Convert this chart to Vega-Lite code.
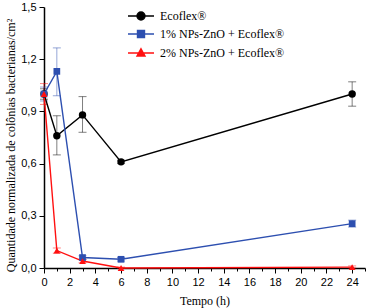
{
  "$schema": "https://vega.github.io/schema/vega-lite/v6.json",
  "width": 321,
  "height": 261,
  "autosize": "none",
  "padding": {"left": 44, "top": 7, "right": 6, "bottom": 40},
  "background": "white",
  "config": {
    "view": {"stroke": null},
    "locale": {"number": {"decimal": ",", "thousands": ".", "grouping": [3], "currency": ["", ""]}},
    "axis": {
      "domainColor": "black", "domainWidth": 1.5, "tickColor": "black", "tickWidth": 1,
      "labelFont": "Liberation Sans", "labelFontSize": 11, "labelColor": "black",
      "titleFont": "Liberation Serif", "titleFontSize": 12, "titleFontWeight": "normal", "titleColor": "black",
      "grid": false, "labelOverlap": false, "labelFlush": false
    }
  },
  "data": {"values": [
    {"series": "Ecoflex®", "t": 0, "v": 1.0, "lo": 0.97, "hi": 1.03},
    {"series": "Ecoflex®", "t": 1, "v": 0.76, "lo": 0.65, "hi": 0.875},
    {"series": "Ecoflex®", "t": 3, "v": 0.88, "lo": 0.78, "hi": 0.985},
    {"series": "Ecoflex®", "t": 6, "v": 0.61, "lo": 0.6, "hi": 0.62},
    {"series": "Ecoflex®", "t": 24, "v": 1.0, "lo": 0.93, "hi": 1.07},
    {"series": "1% NPs-ZnO + Ecoflex®", "t": 0, "v": 1.0, "lo": 0.96, "hi": 1.04},
    {"series": "1% NPs-ZnO + Ecoflex®", "t": 1, "v": 1.13, "lo": 0.99, "hi": 1.265},
    {"series": "1% NPs-ZnO + Ecoflex®", "t": 3, "v": 0.06, "lo": 0.05, "hi": 0.07},
    {"series": "1% NPs-ZnO + Ecoflex®", "t": 6, "v": 0.05, "lo": 0.04, "hi": 0.06},
    {"series": "1% NPs-ZnO + Ecoflex®", "t": 24, "v": 0.255, "lo": 0.235, "hi": 0.275},
    {"series": "2% NPs-ZnO + Ecoflex®", "t": 0, "v": 1.0, "lo": 0.94, "hi": 1.06},
    {"series": "2% NPs-ZnO + Ecoflex®", "t": 1, "v": 0.1, "lo": 0.085, "hi": 0.115},
    {"series": "2% NPs-ZnO + Ecoflex®", "t": 3, "v": 0.04, "lo": 0.03, "hi": 0.05},
    {"series": "2% NPs-ZnO + Ecoflex®", "t": 6, "v": 0.0, "lo": 0.0, "hi": 0.005},
    {"series": "2% NPs-ZnO + Ecoflex®", "t": 24, "v": 0.005, "lo": 0.0, "hi": 0.012}
  ]},
  "resolve": {"axis": {"x": "independent"}, "legend": {"color": "independent", "shape": "independent"}},
  "layer": [
    {
      "mark": {"type": "rule", "opacity": 0.5, "strokeWidth": 1},
      "encoding": {
        "x": {"field": "t", "type": "quantitative", "scale": {"domain": [0, 25], "nice": false},
          "axis": {"values": [0,2,4,6,8,10,12,14,16,18,20,22,24], "labelOverlap": false, "labelFlush": false,
            "tickSize": 5, "title": "Tempo (h)", "titlePadding": 8, "labelPadding": 3}},
        "y": {"field": "lo", "type": "quantitative", "scale": {"domain": [0, 1.5], "nice": false},
          "axis": {"values": [0, 0.15, 0.3, 0.45, 0.6, 0.75, 0.9, 1.05, 1.2, 1.35, 1.5], "format": ".1f",
            "labelExpr": "round(datum.value * 100) % 30 === 0 ? datum.label : ''", "labelOverlap": false, "labelFlush": false,
            "tickSize": {"condition": {"test": "round(datum.value * 100) % 30 !== 0", "value": 3}, "value": 5},
            "title": "Quantidade normalizada de colônias bacterianas/cm²", "titlePadding": 3, "titleY": 138, "labelPadding": 3}},
        "y2": {"field": "hi"},
        "color": {"field": "series", "type": "nominal", "legend": null,
          "scale": {"domain": ["Ecoflex®", "1% NPs-ZnO + Ecoflex®", "2% NPs-ZnO + Ecoflex®"], "range": ["#000000", "#2d4fb0", "#ff1010"]}}
      }
    },
    {
      "mark": {"type": "tick", "orient": "horizontal", "size": 8, "thickness": 1, "opacity": 0.5},
      "encoding": {
        "x": {"field": "t", "type": "quantitative",
          "axis": {"values": [1,3,5,7,9,11,13,15,17,19,21,23,25], "labels": false, "domain": false, "tickSize": 3, "title": null, "orient": "bottom", "labelOverlap": false, "labelFlush": false}},
        "y": {"field": "lo", "type": "quantitative"},
        "color": {"field": "series", "type": "nominal", "legend": null}
      }
    },
    {
      "mark": {"type": "tick", "orient": "horizontal", "size": 8, "thickness": 1, "opacity": 0.5},
      "encoding": {
        "x": {"field": "t", "type": "quantitative", "axis": null},
        "y": {"field": "hi", "type": "quantitative"},
        "color": {"field": "series", "type": "nominal", "legend": null}
      }
    },
    {
      "mark": {"type": "line", "strokeWidth": 1.4},
      "encoding": {
        "x": {"field": "t", "type": "quantitative", "axis": null},
        "y": {"field": "v", "type": "quantitative"},
        "color": {"field": "series", "type": "nominal", "legend": null}
      }
    },
    {
      "transform": [{"filter": "datum.series === 'Ecoflex®'"}],
      "mark": {"type": "point", "shape": "circle", "filled": true, "size": 55, "opacity": 1},
      "encoding": {
        "x": {"field": "t", "type": "quantitative", "axis": null},
        "y": {"field": "v", "type": "quantitative"},
        "color": {"field": "series", "type": "nominal", "legend": null}
      }
    },
    {
      "transform": [{"filter": "datum.series === '1% NPs-ZnO + Ecoflex®'"}],
      "mark": {"type": "point", "shape": "square", "filled": true, "size": 45, "opacity": 1},
      "encoding": {
        "x": {"field": "t", "type": "quantitative", "axis": null},
        "y": {"field": "v", "type": "quantitative"},
        "color": {"field": "series", "type": "nominal", "legend": null}
      }
    },
    {
      "transform": [{"filter": "datum.series === '2% NPs-ZnO + Ecoflex®'"}],
      "mark": {"type": "point", "shape": "triangle-up", "filled": true, "size": 45, "opacity": 1},
      "encoding": {
        "x": {"field": "t", "type": "quantitative", "axis": null},
        "y": {"field": "v", "type": "quantitative"},
        "color": {"field": "series", "type": "nominal", "legend": null}
      }
    },
    {
      "transform": [{"filter": "datum.t === 0"}],
      "mark": {"type": "point", "filled": true, "opacity": 0},
      "encoding": {
        "x": {"field": "t", "type": "quantitative", "axis": null},
        "y": {"field": "v", "type": "quantitative"},
        "color": {"field": "series", "type": "nominal",
          "legend": {"title": null, "orient": "none", "legendX": 91, "legendY": 3, "padding": 0,
            "symbolSize": 100, "symbolOpacity": 1, "symbolStrokeWidth": 1.4, "labelOffset": 13,
            "labelFont": "Liberation Serif", "labelFontSize": 12, "labelColor": "black", "rowPadding": 4,
            "encode": {"symbols": {"update": {"stroke": {"scale": "color", "field": "value"}, "fill": {"scale": "color", "field": "value"}}}}}},
        "shape": {"field": "series", "type": "nominal",
          "scale": {"domain": ["Ecoflex®", "1% NPs-ZnO + Ecoflex®", "2% NPs-ZnO + Ecoflex®"],
            "range": ["M-2.6,0H2.6M-0.8,0A0.8,0.8,0,1,0,0.8,0A0.8,0.8,0,1,0,-0.8,0Z", "M-2.6,0H2.6M-0.7,-0.7H0.7V0.7H-0.7Z", "M-2.6,0H2.6M0,-0.85L0.8,0.6H-0.8Z"]},
          "legend": {"title": null, "orient": "none", "legendX": 91, "legendY": 3}}
      }
    }
  ]
}
